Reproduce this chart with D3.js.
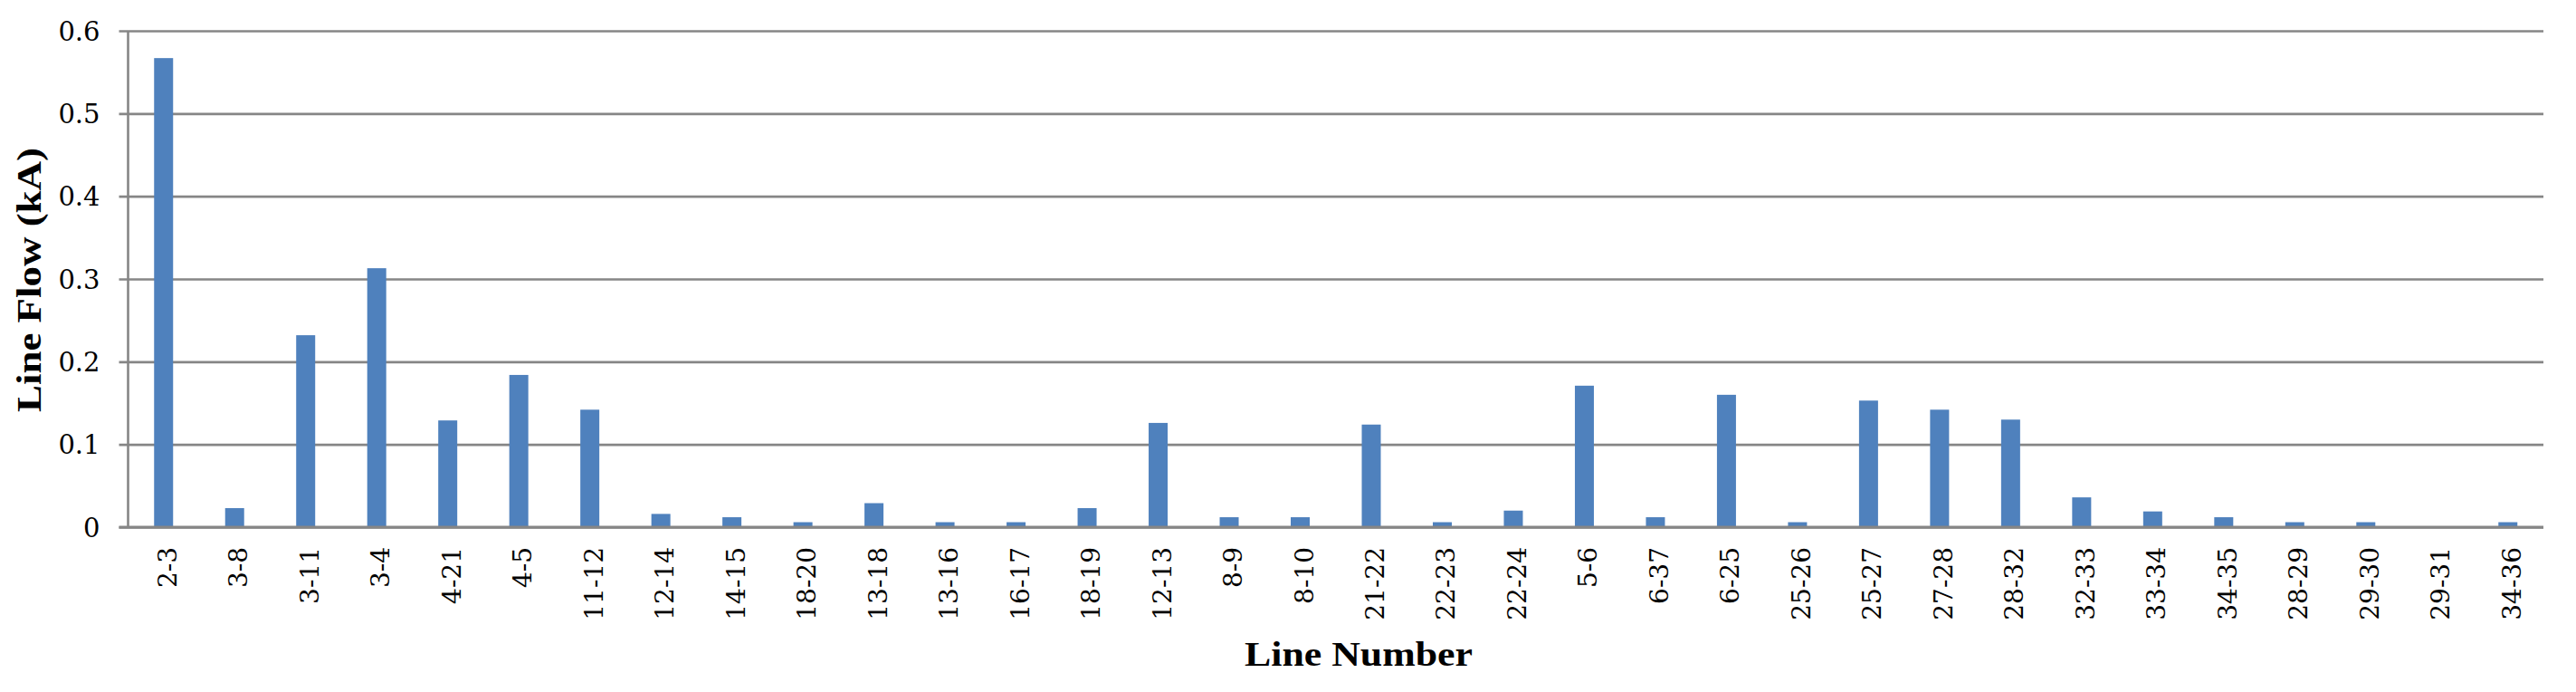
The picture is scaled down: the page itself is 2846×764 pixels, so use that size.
<!DOCTYPE html>
<html>
<head>
<meta charset="utf-8">
<script src="https://cdn.jsdelivr.net/npm/d3@7"></script>
<style>
  html, body { margin: 0; padding: 0; background: #ffffff; }
  svg { display: block; }
</style>
</head>
<body>
<svg id="chart" width="2846" height="764"></svg>
<script>
const categories = ["2-3","3-8","3-11","3-4","4-21","4-5","11-12","12-14","14-15","18-20","13-18","13-16","16-17","18-19","12-13","8-9","8-10","21-22","22-23","22-24","5-6","6-37","6-25","25-26","25-27","27-28","28-32","32-33","33-34","34-35","28-29","29-30","29-31","34-36"];
const values = [0.567,0.023,0.232,0.313,0.129,0.184,0.142,0.016,0.012,0.006,0.029,0.006,0.006,0.023,0.126,0.012,0.012,0.124,0.006,0.020,0.171,0.012,0.160,0.006,0.153,0.142,0.130,0.036,0.019,0.012,0.006,0.006,0.000,0.006];
const yTicks = [0, 0.1, 0.2, 0.3, 0.4, 0.5, 0.6];
const yTickLabels = ["0","0.1","0.2","0.3","0.4","0.5","0.6"];
const yTitle = "Line Flow (kA)";
const xTitle = "Line Number";

(function () {
const svg = d3.select("#chart");
const mLeft = 141.5, mRight = 2810, mTop = 34, mBottom = 582;

const x = d3.scaleBand().domain(categories).range([mLeft, mRight])
  .paddingInner(0.7325).paddingOuter(0.36625);
const y = d3.scaleLinear().domain([0, 0.6]).range([mBottom, mTop]);

// gridlines
const yAxis = d3.axisLeft(y).tickValues(yTicks)
  .tickSize(-(mRight - mLeft + 10))
  .tickFormat((d, i) => yTickLabels[i]);
const gy = svg.append("g").attr("transform", `translate(${mLeft - 10},0)`).call(yAxis);
gy.select(".domain").remove();
gy.selectAll(".tick line").attr("stroke", "#868686").attr("stroke-width", 2.6)
  .attr("x1", 0).attr("x2", mRight - mLeft + 10);
gy.selectAll(".tick text").attr("x", -21).attr("dy", "0.35em")
  .attr("font-family", "DejaVu Serif").attr("font-size", 29).attr("fill", "#000");

// vertical axis line
svg.append("line").attr("x1", mLeft).attr("x2", mLeft).attr("y1", mTop).attr("y2", mBottom)
  .attr("stroke", "#868686").attr("stroke-width", 2.6);

// bars
svg.append("g").selectAll("rect").data(values).join("rect")
  .attr("x", (d, i) => x(categories[i]))
  .attr("width", x.bandwidth())
  .attr("y", d => y(d))
  .attr("height", d => y(0) - y(d))
  .attr("fill", "#4F81BD");

// zero line on top
svg.append("line").attr("x1", mLeft - 10).attr("x2", mRight).attr("y1", y(0)).attr("y2", y(0))
  .attr("stroke", "#868686").attr("stroke-width", 2.8);

// x labels
const xAxis = d3.axisBottom(x).tickSize(0);
const gx = svg.append("g").attr("transform", `translate(0,${mBottom})`).call(xAxis);
gx.select(".domain").remove();
gx.selectAll(".tick text")
  .attr("transform", "rotate(-90)")
  .attr("x", -22).attr("y", 0).attr("dy", "0.5em")
  .attr("text-anchor", "end")
  .attr("font-family", "DejaVu Serif").attr("font-size", 28).attr("fill", "#000");

// titles
svg.append("text")
  .attr("transform", `translate(45,309) rotate(-90)`)
  .attr("text-anchor", "middle")
  .attr("font-family", "Liberation Serif").attr("font-weight", "bold").attr("font-size", 38)
  .attr("textLength", 292).attr("lengthAdjust", "spacingAndGlyphs")
  .text(yTitle);
svg.append("text")
  .attr("x", 1501).attr("y", 735)
  .attr("text-anchor", "middle")
  .attr("font-family", "Liberation Serif").attr("font-weight", "bold").attr("font-size", 38)
  .attr("textLength", 252).attr("lengthAdjust", "spacingAndGlyphs")
  .text(xTitle);
})();
</script>
</body>
</html>
